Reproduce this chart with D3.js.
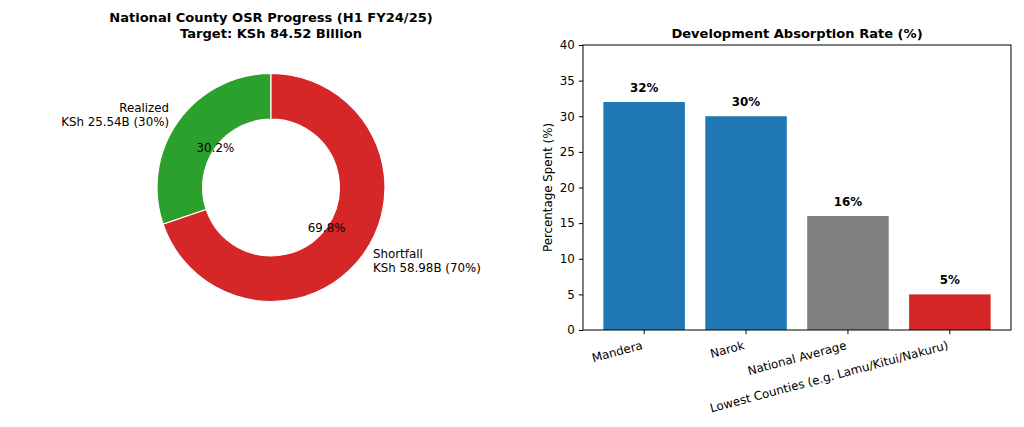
<!DOCTYPE html>
<html>
<head>
<meta charset="utf-8">
<script src="https://cdn.jsdelivr.net/npm/d3@7"></script>
<style>
  body { margin: 0; background: #fff; }
  text { font-family: "DejaVu Sans", sans-serif; fill: #000; }
</style>
</head>
<body>
<div id="chart"></div>
<script>
// pie data
var pieLabels = ["Realized", "Shortfall"];
var pieValues = [25.54, 58.98];
var pieColors = ["#2ca02c", "#d62728"];
var pieTitle = ["National County OSR Progress (H1 FY24/25)", "Target: KSh 84.52 Billion"];

// bar data
var barCategories = ["Mandera", "Narok", "National Average", "Lowest Counties (e.g. Lamu/Kitui/Nakuru)"];
var barValues = [32, 30, 16, 5];
var barColors = ["#1f77b4", "#1f77b4", "#808080", "#d62728"];
var yTicks = [0, 5, 10, 15, 20, 25, 30, 35, 40];

var W = 1024, H = 427;
var fs = 11.85, fsTitle = 13.05;

var svg = d3.select("#chart")
  .append("svg")
    .attr("width", W)
    .attr("height", H);

// ---------- donut ----------
var cx = 271, cy = 187.5, R = 114;
var total = d3.sum(pieValues);

// counter-clockwise from 12 o'clock, like matplotlib startangle=90
var pie = d3.pie().sort(null).startAngle(0).endAngle(-2 * Math.PI);
var arcs = pie(pieValues);

var arc = d3.arc().innerRadius(R * 0.6).outerRadius(R);
var pctArc = d3.arc().innerRadius(R * 0.6).outerRadius(R * 0.6);
var lblArc = d3.arc().innerRadius(R * 1.1).outerRadius(R * 1.1);

var gp = svg.append("g").attr("transform", "translate(" + cx + "," + cy + ")");

gp.selectAll("path")
  .data(arcs)
  .enter()
  .append("path")
    .attr("d", arc)
    .style("fill", function(d, i) { return pieColors[i]; })
    .style("stroke", "#fff")
    .style("stroke-width", 1.2);

// percentage text
gp.selectAll("text.pct")
  .data(arcs)
  .enter()
  .append("text")
    .attr("class", "pct")
    .attr("x", function(d) { return pctArc.centroid(d)[0]; })
    .attr("y", function(d) { return pctArc.centroid(d)[1]; })
    .attr("dy", "0.36em")
    .style("text-anchor", "middle")
    .style("font-size", fs + "px")
    .text(function(d) { return (d.value / total * 100).toFixed(1) + "%"; });

// outer labels (two lines)
gp.selectAll("text.lbl")
  .data(arcs)
  .enter()
  .append("text")
    .attr("class", "lbl")
    .style("font-size", fs + "px")
    .style("text-anchor", function(d) { return lblArc.centroid(d)[0] > 0 ? "start" : "end"; })
    .each(function(d, i) {
      var c = lblArc.centroid(d);
      var lines = [pieLabels[i], "KSh " + d.value.toFixed(2) + "B (" + Math.round(d.value / total * 100) + "%)"];
      d3.select(this).selectAll("tspan")
        .data(lines).enter()
        .append("tspan")
          .attr("x", c[0])
          .attr("y", function(l, j) { return c[1] + (j - 0.5) * 1.2 * fs + 0.36 * fs; })
          .text(function(l) { return l; });
    });

// title
svg.append("text")
  .style("text-anchor", "middle")
  .style("font-size", fsTitle + "px")
  .style("font-weight", "bold")
  .selectAll("tspan")
  .data(pieTitle).enter()
  .append("tspan")
    .attr("x", cx)
    .attr("y", function(d, i) { return 38 - (1 - i) * 1.2 * fsTitle; })
    .text(function(d) { return d; });

// ---------- bars ----------
var ax = {left: 583, right: 1011, top: 45, bottom: 330};

var x = d3.scaleBand()
  .domain(barCategories)
  .range([ax.left, ax.right])
  .paddingInner(0.2)
  .paddingOuter(0.2);

var y = d3.scaleLinear()
  .domain([0, 40])
  .range([ax.bottom, ax.top]);

svg.selectAll("rect.bar")
  .data(barValues)
  .enter()
  .append("rect")
    .attr("class", "bar")
    .attr("x", function(d, i) { return x(barCategories[i]); })
    .attr("width", x.bandwidth())
    .attr("y", function(d) { return y(d); })
    .attr("height", function(d) { return y(0) - y(d); })
    .style("fill", function(d, i) { return barColors[i]; });

// value labels
svg.selectAll("text.val")
  .data(barValues)
  .enter()
  .append("text")
    .attr("class", "val")
    .attr("x", function(d, i) { return x(barCategories[i]) + x.bandwidth() / 2; })
    .attr("y", function(d) { return y(d + 1) - 0.236 * fs; })
    .style("text-anchor", "middle")
    .style("font-size", fs + "px")
    .style("font-weight", "bold")
    .text(function(d) { return d + "%"; });

// y axis
var yAxis = svg.append("g")
  .attr("transform", "translate(" + ax.left + ",0)")
  .call(d3.axisLeft(y).tickValues(yTicks).tickSize(4.1).tickPadding(4.1));

// x axis
var xAxis = svg.append("g")
  .attr("transform", "translate(0," + ax.bottom + ")")
  .call(d3.axisBottom(x).tickSize(4.1).tickPadding(4.1));

[yAxis, xAxis].forEach(function(g) {
  g.select(".domain").remove();
  g.selectAll("line").style("stroke", "#000").style("stroke-width", 1);
  g.selectAll("text").style("font-size", fs + "px").style("font-family", "DejaVu Sans").style("fill", "#000");
});

// rotated x labels: top-right corner of the rotated box sits under the tick
xAxis.selectAll(".tick text")
  .attr("y", 0).attr("dy", null)
  .style("text-anchor", "end")
  .attr("transform", "rotate(-15)")
  .each(function() {
    var node = this, tick = this.parentNode;
    var tmp = d3.select(tick).append("g");
    tmp.node().appendChild(node);
    var b = tmp.node().getBBox();
    var dx = -(b.x + b.width), dy = 8.2 - b.y;
    tick.appendChild(node);
    tmp.remove();
    d3.select(node).attr("transform", "translate(" + dx + "," + dy + ") rotate(-15)");
  });

// spines
svg.append("rect")
  .attr("x", ax.left)
  .attr("y", ax.top)
  .attr("width", ax.right - ax.left)
  .attr("height", ax.bottom - ax.top)
  .style("fill", "none")
  .style("stroke", "#000")
  .style("stroke-width", 1);

// y label
svg.append("text")
  .attr("transform", "translate(552," + ((ax.top + ax.bottom) / 2) + ") rotate(-90)")
  .style("text-anchor", "middle")
  .style("font-size", fs + "px")
  .text("Percentage Spent (%)");

// title
svg.append("text")
  .attr("x", (ax.left + ax.right) / 2)
  .attr("y", 38)
  .style("text-anchor", "middle")
  .style("font-size", fsTitle + "px")
  .style("font-weight", "bold")
  .text("Development Absorption Rate (%)");
</script>
</body>
</html>
